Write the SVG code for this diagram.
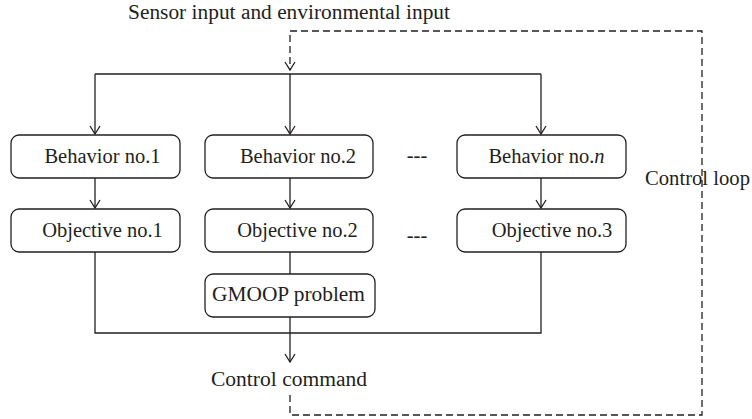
<svg xmlns="http://www.w3.org/2000/svg" width="752" height="419" viewBox="0 0 752 419" font-family="'Liberation Serif', 'DejaVu Serif', serif">
<defs>
<style>
text{font-family:'Liberation Serif','DejaVu Serif',serif;font-size:20.5px;fill:#231f20;text-anchor:middle}
.box{fill:#fff;stroke:#231f20;stroke-width:1.3}
.ln{fill:none;stroke:#231f20;stroke-width:1.3}
.dash{fill:none;stroke:#231f20;stroke-width:1.3;stroke-dasharray:7 4}
</style>
<marker id="arr" viewBox="0 0 12 12" refX="10" refY="6" markerWidth="12" markerHeight="12" markerUnits="userSpaceOnUse" orient="auto">
<path d="M2,1 L10,6 L2,11" fill="none" stroke="#231f20" stroke-width="1.3"/>
</marker>
</defs>
<rect width="752" height="419" fill="#fff"/>
<g id="connectors">
<path class="dash" d="M290,395 V415 H702 V31 H290 V70" marker-end="url(#arr)"/>
<path class="ln" d="M95,74 H541"/>
<path class="ln" d="M95,74 V134" marker-end="url(#arr)"/>
<path class="ln" d="M290,74 V134" marker-end="url(#arr)"/>
<path class="ln" d="M541,74 V134" marker-end="url(#arr)"/>
<path class="ln" d="M95,178 V208" marker-end="url(#arr)"/>
<path class="ln" d="M290,178 V208" marker-end="url(#arr)"/>
<path class="ln" d="M541,178 V208" marker-end="url(#arr)"/>
<path class="ln" d="M290,252 V274"/>
<path class="ln" d="M95,252 V333 H541 V252"/>
<path class="ln" d="M290,317 V362" marker-end="url(#arr)"/>
</g>
<text id="sensor" x="289" y="19" textLength="322" lengthAdjust="spacingAndGlyphs">Sensor input and environmental input</text>
<g id="behavior1"><rect class="box" x="11" y="135" width="169" height="43" rx="8"/><text x="102.5" y="163">Behavior no.1</text></g>
<g id="behavior2"><rect class="box" x="205" y="135" width="168" height="43" rx="8"/><text x="298" y="163">Behavior no.2</text></g>
<g id="behaviorn"><rect class="box" x="457" y="135" width="169" height="43" rx="8"/><text x="546.5" y="163">Behavior no.<tspan font-style="italic">n</tspan></text></g>
<g id="objective1"><rect class="box" x="11" y="209" width="169" height="43" rx="8"/><text x="102.5" y="237">Objective no.1</text></g>
<g id="objective2"><rect class="box" x="205" y="209" width="168" height="43" rx="8"/><text x="297.5" y="237">Objective no.2</text></g>
<g id="objective3"><rect class="box" x="457" y="209" width="169" height="43" rx="8"/><text x="552" y="237">Objective no.3</text></g>
<g id="gmoop"><rect class="box" x="205" y="274" width="170" height="43" rx="8"/><text x="288.5" y="301" textLength="153" lengthAdjust="spacingAndGlyphs">GMOOP problem</text></g>
<text x="417" y="162">---</text>
<text x="417" y="242">---</text>
<text x="697.5" y="185" textLength="105" lengthAdjust="spacingAndGlyphs">Control loop</text>
<text id="command" x="289" y="386" textLength="156" lengthAdjust="spacingAndGlyphs">Control command</text>
</svg>
